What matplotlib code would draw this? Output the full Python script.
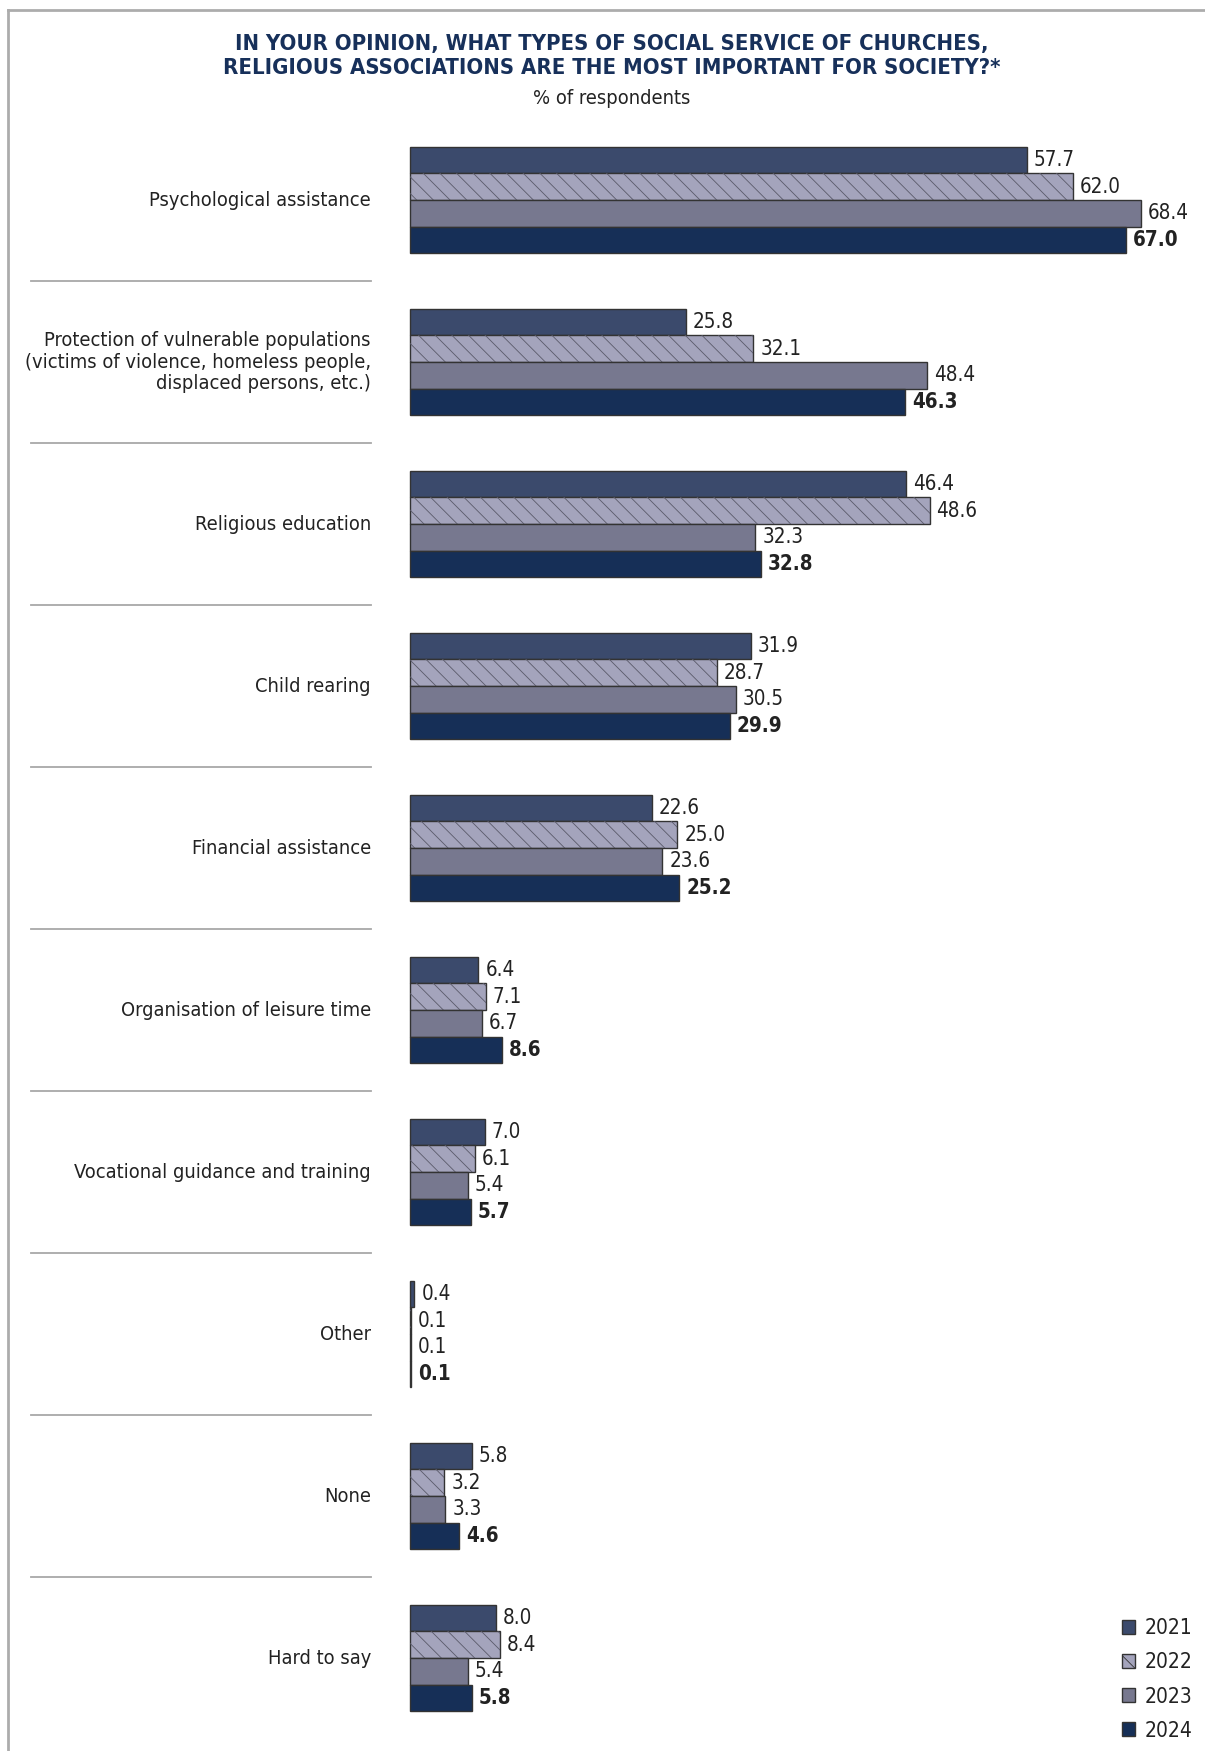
import matplotlib
matplotlib.use("Agg")
import matplotlib.pyplot as plt
from matplotlib import font_manager as fm
from matplotlib.patches import Patch
from matplotlib.lines import Line2D

plt.rcParams['hatch.linewidth'] = 0.6

categories = [
    "Psychological assistance",
    "Protection of vulnerable populations\n(victims of violence, homeless people,\ndisplaced persons, etc.)",
    "Religious education",
    "Child rearing",
    "Financial assistance",
    "Organisation of leisure time",
    "Vocational guidance and training",
    "Other",
    "None",
    "Hard to say",
]
years = ["2021", "2022", "2023", "2024"]
v2021 = [57.7, 25.8, 46.4, 31.9, 22.6, 6.4, 7.0, 0.4, 5.8, 8.0]
v2022 = [62.0, 32.1, 48.6, 28.7, 25.0, 7.1, 6.1, 0.1, 3.2, 8.4]
v2023 = [68.4, 48.4, 32.3, 30.5, 23.6, 6.7, 5.4, 0.1, 3.3, 5.4]
v2024 = [67.0, 46.3, 32.8, 29.9, 25.2, 8.6, 5.7, 0.1, 4.6, 5.8]
series = [v2021, v2022, v2023, v2024]

colors = ["#3b4a6c", "#a4a4bc", "#77788f", "#162f57"]
hatches = [None, "\\\\", None, None]
text_c = "#222222"


def weight_num(w):
    if isinstance(w, int):
        return w
    return {"light": 300, "normal": 400, "regular": 400, "book": 400,
            "medium": 500, "semibold": 600, "demibold": 600,
            "bold": 700, "heavy": 800, "black": 900}.get(str(w).lower(), 400)


def find_narrow(bold):
    # look for a condensed / narrow face among installed fonts
    want = 700 if bold else 400
    best = None
    for f in fm.fontManager.ttflist:
        narrow = (f.stretch in ("condensed", "semi-condensed", "extra-condensed")
                  or "Narrow" in f.name or "Condensed" in f.name)
        if not narrow or f.style != "normal":
            continue
        if f.stretch == "extra-condensed":
            continue
        d = abs(weight_num(f.weight) - want)
        if best is None or d < best[0]:
            best = (d, f.fname)
    if best is not None and best[0] <= 100:
        return fm.FontProperties(fname=best[1])
    return None


reg_fp = find_narrow(False)
bold_fp = find_narrow(True)
if reg_fp is None or bold_fp is None:
    reg_fp = fm.FontProperties(family="DejaVu Sans")
    bold_fp = fm.FontProperties(family="DejaVu Sans", weight="bold")
    k = 0.82
else:
    k = 1.0

# layout in pixels (figure 1205 x 1751 at dpi 100)
W, H = 1205, 1751
PX = 10.69          # pixels per percent
X0 = 410            # pixel x of zero
GAP = 162           # pixel distance between groups
Y0 = 200            # pixel y of first group centre
BAR = 26.6 / GAP    # bar height in group units

fig = plt.figure(figsize=(W / 100, H / 100), dpi=100)
ax = fig.add_axes([0, 0, 1, 1])
ax.set_xlim(-X0 / PX, (W - X0) / PX)
ax.set_ylim(H / GAP, 0)
ax.axis("off")

for i, cat in enumerate(categories):
    yc = Y0 / GAP + i
    for j, vals in enumerate(series):
        y = yc + (j - 1.5) * BAR
        ax.barh(y, vals[i], height=BAR, left=0, color=colors[j],
                edgecolor="#333333", linewidth=1.0)
        if hatches[j]:
            ax.barh(y, vals[i], height=BAR, left=0, color="none",
                    edgecolor="#5a5a6a", linewidth=0, hatch=hatches[j])
        ax.text(vals[i] + 7 / PX, y, f"{vals[i]:.1f}", ha="left", va="center",
                fontproperties=bold_fp if j == 3 else reg_fp,
                fontsize=14.8 * k, color=text_c)
    ax.text(-39 / PX, yc, cat, ha="right", va="center", fontproperties=reg_fp,
            fontsize=14.4 * k, color=text_c, linespacing=1.18)
    if i > 0:
        ax.plot([-379 / PX, -39 / PX], [yc - 0.5, yc - 0.5],
                color="#a8a8a8", linewidth=1.3)

# frame lines (top and left)
fig.add_artist(Line2D([8 / W, 1], [1 - 10.5 / H, 1 - 10.5 / H],
                      color="#acacac", linewidth=2, transform=fig.transFigure))
fig.add_artist(Line2D([8 / W, 8 / W], [0, 1 - 10.5 / H],
                      color="#acacac", linewidth=2, transform=fig.transFigure))

fig.text(612 / W, 1 - 56 / H,
         "IN YOUR OPINION, WHAT TYPES OF SOCIAL SERVICE OF CHURCHES,\n"
         "RELIGIOUS ASSOCIATIONS ARE THE MOST IMPORTANT FOR SOCIETY?*",
         ha="center", va="center", fontproperties=bold_fp,
         fontsize=15.8 * k, color="#17305a", linespacing=1.3)
fig.text(612 / W, 1 - 99 / H, "% of respondents", ha="center", va="center",
         fontproperties=reg_fp, fontsize=14.4 * k, color=text_c)

leg_fp = reg_fp.copy()
leg_fp.set_size(15 * k)
handles = [Patch(facecolor=colors[m], edgecolor="#333333", hatch=hatches[m],
                 linewidth=1.0, label=years[m]) for m in range(4)]
leg = ax.legend(handles=handles, loc="lower right",
                bbox_to_anchor=(1 - 4 / W, 2 / H), frameon=False,
                prop=leg_fp, handlelength=0.65, handleheight=0.65,
                handletextpad=0.45, labelspacing=0.68, borderaxespad=0)
for t in leg.get_texts():
    t.set_color(text_c)

fig.savefig("out.png", dpi=100)
